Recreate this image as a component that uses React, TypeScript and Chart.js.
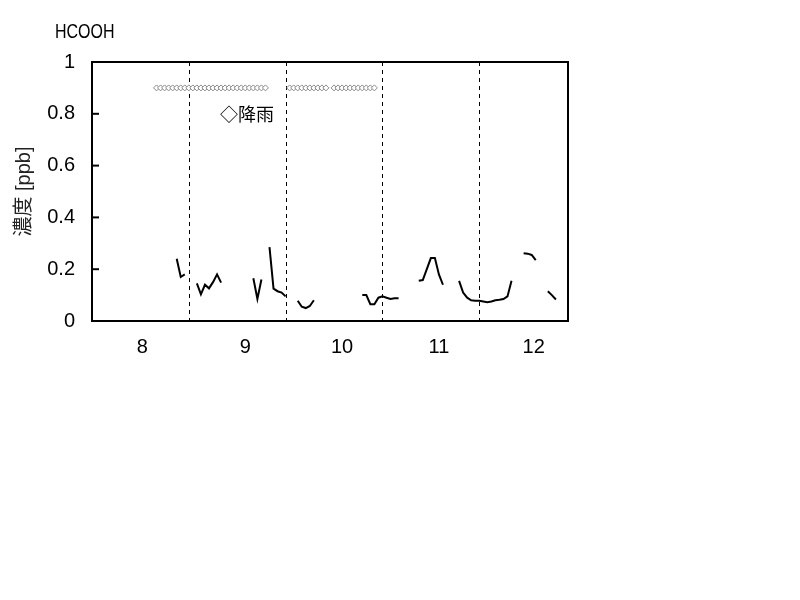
import { useEffect, useRef } from "react";
import { Chart, registerables } from "chart.js";

Chart.register(...registerables);

// Day-of-month labels on the x axis and the hour (from the 8th 00:00) each one sits at
const DAY_LABELS = ["8", "9", "10", "11", "12"];
const DAY_LABEL_HOURS = [12.5, 38, 62, 86, 109.5];
// Midnight boundaries, drawn as dashed verticals
const DAY_BOUNDARY_HOURS = [24, 48, 72, 96];
const HOUR_MAX = 118;

// Hourly HCOOH concentration [ppb]; null = no measurement
const _ = null;
const DAY8 = [_, _, _, _, _, _, _, _, _, _, _, _, _, _, _, _, _, _, _, _, _, 0.24, 0.17, 0.18];
const DAY9 = [_, _, 0.145, 0.103, 0.14, 0.126, 0.15, 0.18, 0.148, _, _, _, _, _, _, _, 0.165, 0.085, 0.16, _, 0.285, 0.125, 0.115, 0.11];
const DAY10 = [0.095, _, _, 0.078, 0.055, 0.05, 0.058, 0.08, _, _, _, _, _, _, _, _, _, _, _, 0.1, 0.1, 0.065, 0.065, 0.09];
const DAY11 = [0.095, 0.09, 0.085, 0.088, 0.088, _, _, _, _, 0.155, 0.158, 0.2, 0.243, 0.243, 0.18, 0.14, _, _, _, 0.155, 0.11, 0.09, 0.08, 0.078];
const DAY12 = [0.078, 0.075, 0.072, 0.075, 0.08, 0.082, 0.085, 0.095, 0.155, _, _, 0.262, 0.26, 0.255, 0.235, _, _, 0.115, 0.1, 0.083, _, _];
const HCOOH_PPB: (number | null)[] = [...DAY8, ...DAY9, ...DAY10, ...DAY11, ...DAY12];

// Hours with rainfall, marked along a fixed level
const RAIN_HOURS = [
  16, 17, 18, 19, 20, 21, 22, 23, 24, 25, 26, 27, 28, 29, 30, 31, 32, 33, 34, 35, 36, 37, 38, 39, 40, 41, 42, 43,
  49, 50, 51, 52, 53, 54, 55, 56, 57, 58,
  60, 61, 62, 63, 64, 65, 66, 67, 68, 69, 70,
];
const RAIN_LEVEL = 0.9;

const TITLE = "HCOOH";
const Y_TITLE = "濃度 [ppb]";
const RAIN_LABEL = "◇降雨";

const LATIN = '"Liberation Sans", Arial, "Noto Sans CJK JP", sans-serif';

const framePlugin = {
  id: "frameAndNotes",
  beforeDatasetsDraw(chart: any) {
    const { ctx, chartArea, scales } = chart;
    ctx.save();
    ctx.strokeStyle = "#000";
    ctx.lineWidth = 1;
    ctx.setLineDash([4, 4]);
    for (const h of DAY_BOUNDARY_HOURS) {
      const x = Math.round(scales.x.getPixelForValue(h)) + 0.5;
      ctx.beginPath();
      ctx.moveTo(x, chartArea.top);
      ctx.lineTo(x, chartArea.bottom);
      ctx.stroke();
    }
    ctx.restore();
  },
  afterDraw(chart: any) {
    const { ctx, chartArea, scales } = chart;
    const { left, right, top, bottom } = chartArea;
    ctx.save();
    ctx.strokeStyle = "#000";
    ctx.lineWidth = 2;
    ctx.strokeRect(left, top, right - left, bottom - top);
    // inward tick marks on the y axis
    for (const t of scales.y.ticks) {
      const y = scales.y.getPixelForValue(t.value);
      ctx.beginPath();
      ctx.moveTo(left, y);
      ctx.lineTo(left + 7, y);
      ctx.stroke();
    }
    ctx.fillStyle = "#000";
    ctx.textBaseline = "middle";
    ctx.textAlign = "left";
    ctx.font = `18px ${LATIN}`;
    ctx.fillText(RAIN_LABEL, left + 128, top + 54);
    // condensed species title above the axis
    ctx.save();
    ctx.translate(55, 32);
    ctx.scale(0.8, 1);
    ctx.font = `20px ${LATIN}`;
    ctx.fillText(TITLE, 0, 0);
    ctx.restore();
    ctx.restore();
  },
};

export default function App() {
  const canvasRef = useRef<HTMLCanvasElement | null>(null);

  useEffect(() => {
    const canvas = canvasRef.current;
    if (!canvas) return;
    const lineData = HCOOH_PPB.map((v, i) => ({ x: i, y: v }));
    const rainData = RAIN_HOURS.map((h) => ({ x: h, y: RAIN_LEVEL }));

    const chart = new Chart(canvas, {
      type: "line",
      data: {
        datasets: [
          {
            label: "HCOOH",
            data: lineData as any,
            borderColor: "#000",
            borderWidth: 2,
            pointRadius: 0,
            spanGaps: false,
            tension: 0,
            fill: false,
          },
          {
            label: "降雨",
            data: rainData as any,
            showLine: false,
            pointStyle: "rectRot",
            pointRadius: 3,
            pointBorderWidth: 1,
            pointBorderColor: "#8a8a8a",
            pointBackgroundColor: "#fff",
          },
        ],
      },
      options: {
        animation: false,
        responsive: true,
        maintainAspectRatio: false,
        devicePixelRatio: 1,
        layout: {
          autoPadding: false,
          padding: { left: 0, top: 62, right: 232, bottom: 239 },
        },
        plugins: {
          legend: { display: false },
          tooltip: { enabled: false },
          title: { display: false },
        },
        scales: {
          x: {
            type: "linear",
            min: 0,
            max: HOUR_MAX,
            grid: { display: false, drawTicks: false },
            border: { display: false },
            afterBuildTicks: (s: any) => {
              s.ticks = DAY_LABEL_HOURS.map((v) => ({ value: v }));
            },
            afterFit: (s: any) => {
              s.height = 40;
            },
            ticks: {
              autoSkip: false,
              maxRotation: 0,
              padding: 14,
              color: "#000",
              font: { family: LATIN, size: 20 },
              callback: (_v: any, i: number) => DAY_LABELS[i],
            },
          },
          y: {
            min: 0,
            max: 1,
            grid: { display: false, drawTicks: false },
            border: { display: false },
            afterFit: (s: any) => {
              s.width = 92;
            },
            ticks: {
              stepSize: 0.2,
              padding: 17,
              color: "#000",
              font: { family: LATIN, size: 20 },
              callback: (v: any) => String(Math.round(Number(v) * 10) / 10),
            },
            title: {
              display: true,
              text: Y_TITLE,
              color: "#222",
              padding: { top: 12, bottom: 0 },
              font: { family: LATIN, size: 20 },
            },
          },
        },
      },
      plugins: [framePlugin],
    });
    return () => chart.destroy();
  }, []);

  return (
    <div style={{ position: "absolute", left: 0, top: 0, width: 800, height: 600, background: "#fff" }}>
      <canvas ref={canvasRef} />
    </div>
  );
}
